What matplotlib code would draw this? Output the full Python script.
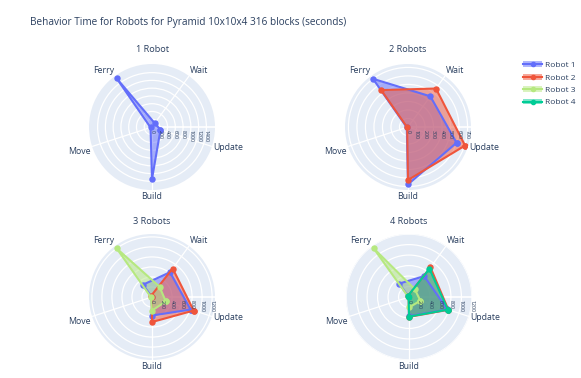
import numpy as np
import matplotlib
matplotlib.use('Agg')
import matplotlib.pyplot as plt
from matplotlib.patches import Patch
from matplotlib.lines import Line2D

plt.rcParams['font.family'] = ['Open Sans', 'DejaVu Sans']

# categories go counterclockwise, Build points straight down
categories = ['Update', 'Wait', 'Ferry', 'Move', 'Build']
cat_angles_deg = [342, 54, 126, 198, 270]

robot_names = ['Robot 1', 'Robot 2', 'Robot 3', 'Robot 4']
robot_colors = ['#636efa', '#EF553B', '#B6E880', '#00cc96']

# seconds per behaviour, order: Update, Wait, Ferry, Move, Build
one_robot = {
    'Robot 1': [230, 120, 1545, 40, 1340],
}
two_robots = {
    'Robot 1': [600, 446, 700, 15, 674],
    'Robot 2': [705, 559, 536, 10, 623],
}
three_robots = {
    'Robot 1': [810, 612, 304, 5, 370],
    'Robot 2': [875, 703, 30, 5, 500],
    'Robot 3': [290, 255, 1198, 20, 270],
}
four_robots = {
    'Robot 1': [770, 493, 316, 5, 365],
    'Robot 2': [790, 697, 30, 5, 380],
    'Robot 3': [228, 186, 1145, 10, 200],
    'Robot 4': [781, 663, 30, 5, 375],
}

panels = [
    ('1 Robot', one_robot, [0, 200, 400, 600, 800, 1000, 1200, 1400], (152, 127)),
    ('2 Robots', two_robots, [0, 100, 200, 300, 400, 500, 600, 700], (408, 127)),
    ('3 Robots', three_robots, [0, 200, 400, 600, 800, 1000, 1200], (152, 297)),
    ('4 Robots', four_robots, [0, 200, 400, 600, 800, 1000, 1200], (409, 297)),
]

W, H = 581, 378
R = 63  # pixel radius of each polar plot
BG = '#E5ECF6'
TXT = '#2a3f5f'

fig = plt.figure(figsize=(W / 100, H / 100), dpi=100)

theta = np.deg2rad(cat_angles_deg)

for title, data, ticks, (cx, cy) in panels:
    ax = fig.add_axes([(cx - R) / W, 1 - (cy + R) / H, 2 * R / W, 2 * R / H],
                      projection='polar')
    ax.set_facecolor(BG)
    ax.spines['polar'].set_visible(False)
    rmax = max(max(v) for v in data.values()) * 1.05

    # radial axis line at angle 0 with labels hanging below it
    ax.plot([0, 0], [0, rmax], color='white', linewidth=1.2, zorder=1)

    for name, color in zip(robot_names, robot_colors):
        if name not in data:
            continue
        vals = data[name]
        t = np.append(theta, theta[0])
        r = np.append(vals, vals[0])
        ax.fill(t, r, color=color, alpha=0.5, linewidth=0, zorder=2)
        ax.plot(t, r, color=color, linewidth=1.5, marker='o', markersize=3.6, zorder=3)

    ax.set_ylim(0, rmax)
    ax.set_yticks(ticks)
    ax.set_yticklabels([])
    ax.set_xticks(theta)
    ax.set_xticklabels([])
    ax.set_xlim(0, 2 * np.pi)
    ax.grid(True, color='white', linewidth=0.9)
    ax.tick_params(length=0)

    for tk in ticks:
        ax.annotate(str(tk), xy=(0, tk), xytext=(0, -2), textcoords='offset points',
                    rotation=-90, ha='center', va='top', fontsize=3.8, color=TXT,
                    zorder=5)

    for lab, a in zip(categories, cat_angles_deg):
        ar = np.deg2rad(a)
        c, s = np.cos(ar), np.sin(ar)
        ha = 'left' if c > 0.2 else ('right' if c < -0.2 else 'center')
        va = 'bottom' if s > 0.5 else ('top' if s < -0.5 else 'center')
        if lab == 'Move':
            va = 'top'
        x = 0.5 + 0.5 * c * 1.03
        y = 0.5 + 0.5 * s * 1.03
        ax.text(x, y, lab, transform=ax.transAxes, ha=ha, va=va,
                fontsize=6.3, color=TXT)

    fig.text(cx / W, 1 - 50 / H if cy < 200 else 1 - 221 / H, title,
             ha='center', va='center', fontsize=6.6, color=TXT)

fig.text(30 / W, 1 - 22 / H,
         'Behavior Time for Robots for Pyramid 10x10x4 316 blocks (seconds)',
         ha='left', va='center', fontsize=7.2, color=TXT)

handles = [(Patch(facecolor=c, alpha=0.5, linewidth=0),
            Line2D([], [], color=c, linewidth=1.5, marker='o', markersize=3))
           for c in robot_colors]
leg = fig.legend(handles, robot_names, loc='upper left',
                 bbox_to_anchor=(520 / W, 1 - 58 / H), frameon=False,
                 fontsize=6, handlelength=2.2, labelspacing=0.55,
                 handletextpad=0.4, borderaxespad=0)
for t in leg.get_texts():
    t.set_color(TXT)

fig.savefig('out.png', dpi=100)
